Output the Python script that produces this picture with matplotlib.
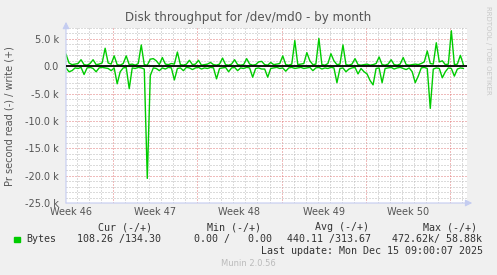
import numpy as np
import matplotlib
matplotlib.use('Agg')
import matplotlib.pyplot as plt

# values in thousands of bytes per second, one sample every 6 hours
write_k = [2.2, 0.6, 0.3, 0.4, 0.5, 1.2, 0.3, 0.2, 0.5, 1.2,
           0.3, 0.4, 0.6, 3.3, 0.6, 0.4, 1.9, 0.3, 0.2, 0.5,
           1.9, 0.3, 0.4, 0.2, 0.5, 3.9, 0.3, 0.2, 1.3, 1.4,
           1.0, 0.3, 1.6, 0.4, 0.3, 0.5, 0.4, 2.6, 0.3, 0.2,
           0.4, 1.1, 0.3, 0.4, 1.1, 0.2, 0.3, 0.4, 0.7, 0.3,
           0.2, 0.4, 1.5, 0.3, 0.2, 0.4, 1.2, 0.3, 0.2, 0.3,
           1.4, 0.4, 0.2, 0.3, 0.8, 0.9, 0.3, 0.2, 0.7, 0.3,
           0.4, 0.5, 1.9, 0.3, 0.2, 0.4, 4.7, 0.3, 0.4, 0.5,
           2.5, 1.0, 0.3, 0.4, 5.1, 0.3, 0.2, 0.5, 2.3, 1.0,
           0.3, 0.4, 3.9, 0.3, 0.2, 0.4, 1.4, 0.3, 0.2, 0.3,
           0.4, 0.2, 0.3, 0.5, 1.7, 0.3, 0.2, 0.4, 1.2, 0.3,
           0.2, 0.4, 1.6, 0.3, 0.2, 0.3, 0.4, 0.3, 0.5, 0.8,
           2.8, 0.5, 0.4, 4.3, 0.8, 1.0, 0.3, 0.4, 6.5, 0.3,
           0.4, 2.0, 0.3]
read_k = [0.3, 1.0, 0.8, 0.3, 0.4, 0.2, 1.5, 0.3, 0.2, 0.4,
          1.0, 0.3, 0.2, 0.3, 0.4, 0.8, 0.3, 3.2, 1.0, 0.3,
          0.2, 4.1, 0.3, 0.4, 0.2, 0.3, 0.5, 20.5, 1.7, 0.3,
          0.4, 0.8, 0.3, 0.5, 0.2, 0.3, 2.5, 0.4, 0.3, 0.8,
          0.2, 0.3, 0.6, 0.3, 0.2, 0.5, 0.3, 0.4, 0.2, 0.3,
          2.3, 0.4, 0.3, 0.2, 1.0, 0.3, 0.2, 0.8, 0.3, 0.4,
          0.2, 0.3, 2.0, 0.4, 0.3, 0.5, 0.5, 2.0, 0.4, 0.3,
          0.2, 0.4, 0.3, 0.9, 0.3, 0.2, 0.4, 0.3, 0.2, 0.4,
          0.3, 0.2, 0.8, 0.3, 0.2, 0.5, 0.3, 0.4, 0.2, 0.3,
          3.0, 0.4, 0.3, 1.0, 0.5, 0.3, 0.2, 1.4, 0.4, 1.0,
          1.4, 2.6, 3.4, 0.4, 0.3, 3.0, 0.4, 0.3, 0.2, 0.5,
          0.3, 0.2, 0.4, 0.6, 0.3, 1.0, 3.0, 1.8, 0.3, 0.2,
          0.4, 7.7, 0.5, 0.3, 0.4, 2.1, 1.0, 0.3, 0.4, 1.8,
          0.5, 0.3, 0.4]
step_days = 0.25

y_ticks = [5, 0, -5, -10, -15, -20, -25]
y_labels = ['5.0 k', '0.0', '-5.0 k', '-10.0 k', '-15.0 k', '-20.0 k', '-25.0 k']
week_labels = ['Week 46', 'Week 47', 'Week 48', 'Week 49', 'Week 50']

legend_cols = ['Cur (-/+)', 'Min (-/+)', 'Avg (-/+)', 'Max (-/+)']
legend_vals = ['108.26 /134.30', '0.00 /   0.00', '440.11 /313.67', '472.62k/ 58.88k']

W, H = 497, 275
fig = plt.figure(figsize=(W / 100, H / 100), dpi=100, facecolor='#F0F0F0')
ax = fig.add_axes([66 / W, 72 / H, 401 / W, 175 / H])
ax.set_facecolor('white')

x0, x1 = 0, 33.3
y0, y1 = -25, 7
ax.set_xlim(x0, x1)
ax.set_ylim(y0, y1)

# grid: one dotted line per day, red ones at each week start
first_week = 3.9
days = np.arange(first_week - 3, x1, 1.0)
weeks = np.arange(first_week, x1, 7.0)
dots = (0, (1, 2))
grid = dict(lw=0.72, linestyles=dots, zorder=1)
ax.vlines([d for d in days if min(abs(d - weeks)) > 0.1], y0, y1,
          colors='#B8B8B8', **grid)
ax.vlines(weeks, y0, y1, colors='#E07878', **grid)
ax.hlines([v for v in range(y0, y1 + 1) if v % 5 != 0], x0, x1,
          colors='#B8B8B8', **grid)
ax.hlines([v for v in y_ticks if v != y0], x0, x1, colors='#E07878', **grid)

t = np.arange(len(write_k)) * step_days
ax.plot(t, write_k, color='#00CC00', lw=1.0, zorder=3)
ax.plot(t, -np.array(read_k), color='#00CC00', lw=1.0, zorder=3)
ax.axhline(0, color='black', lw=1.3, zorder=4)

for s in ax.spines.values():
    s.set_visible(False)
ax.annotate('', xy=(1.013, 0), xytext=(0, 0), xycoords='axes fraction',
            arrowprops=dict(arrowstyle='-|>,head_length=0.4,head_width=0.2',
                            color='#C4CCF0', lw=0.8, shrinkA=0, shrinkB=0))
ax.annotate('', xy=(0, 1.035), xytext=(0, 0), xycoords='axes fraction',
            arrowprops=dict(arrowstyle='-|>,head_length=0.4,head_width=0.2',
                            color='#C4CCF0', lw=0.8, shrinkA=0, shrinkB=0))

ax.set_yticks(y_ticks)
ax.set_yticklabels(y_labels)
ax.set_xticks(weeks - 3.5)
ax.set_xticklabels(week_labels)
ax.tick_params(axis='both', length=0, labelsize=7, colors='#555555')
ax.tick_params(axis='y', pad=5)
ax.tick_params(axis='x', pad=3)

fig.text(248 / W, 1 - 18 / H, 'Disk throughput for /dev/md0 - by month',
         ha='center', va='center', fontsize=8.6, color='#555555')
fig.text(10 / W, 1 - 116 / H, 'Pr second read (-) / write (+)', rotation=90,
         ha='center', va='center', fontsize=7, color='#555555')
fig.text(488 / W, 1 - 6 / H, 'RRDTOOL / TOBI OETIKER', rotation=270,
         ha='center', va='top', fontsize=5, color='#C8C8C8')

mono = dict(family='DejaVu Sans Mono', fontsize=7.2, color='#333333', va='center')
for label, px in zip(legend_cols, [98, 207, 315, 423]):
    fig.text(px / W, 1 - 227 / H, label, **mono)
fig.patches.append(plt.Rectangle((14 / W, 1 - 242 / H), 5.5 / W, 5.5 / H,
                                 transform=fig.transFigure, color='#00CC00'))
fig.text(26.7 / W, 1 - 239 / H, 'Bytes', **mono)
for val, px in zip(legend_vals, [77, 194, 287, 392]):
    fig.text(px / W, 1 - 239 / H, val, **mono)
fig.text(483 / W, 1 - 251.5 / H, 'Last update: Mon Dec 15 09:00:07 2025',
         ha='right', **mono)
fig.text(248 / W, 1 - 264 / H, 'Munin 2.0.56', ha='center', va='center',
         fontsize=6, color='#BBBBBB')

fig.savefig('out.png', dpi=100, facecolor=fig.get_facecolor())
